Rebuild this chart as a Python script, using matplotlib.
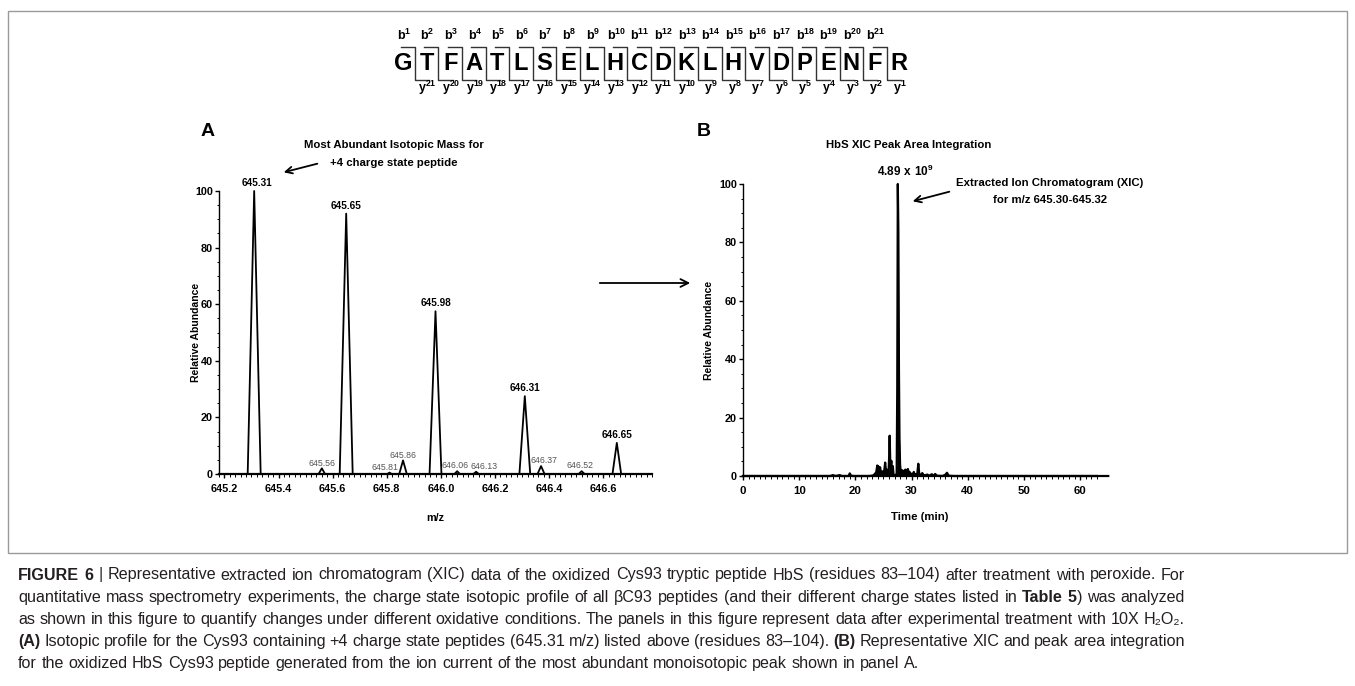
import matplotlib
matplotlib.use('Agg')
import matplotlib.pyplot as plt
from matplotlib.patches import Rectangle
from matplotlib.ticker import MultipleLocator

PLAIN = ['Liberation Sans', 'DejaVu Sans']
plt.rcParams['font.family'] = PLAIN
plt.rcParams['mathtext.fontset'] = 'custom'
plt.rcParams['mathtext.rm'] = 'Liberation Sans'
plt.rcParams['mathtext.bf'] = 'Liberation Sans:bold'

W, H = 1355, 686
CAP_SIZE = 11.6

sequence = list('GTFATLSELHCDKLHVDPENFR')

# panel A: isotopic envelope of the +4 charge state peptide
peak_mz = [645.31, 645.56, 645.65, 645.81, 645.86, 645.98, 646.06, 646.13, 646.31, 646.37, 646.52, 646.65]
peak_abund = [100, 2.0, 92, 0.5, 4.8, 57.5, 1.0, 0.8, 27.5, 2.8, 1.0, 11]
peak_halfwidth = [0.024, 0.012, 0.024, 0.008, 0.014, 0.022, 0.010, 0.010, 0.020, 0.013, 0.011, 0.016]
peak_major = [True, False, True, False, False, True, False, False, True, False, False, True]
mz_ticks = [645.2, 645.4, 645.6, 645.8, 646.0, 646.2, 646.4, 646.6]
mz_ticklabels = ['645.2', '645.4', '645.6', '645.8', '646.0', '646.2', '646.4', '646.6']

# panel B: extracted ion chromatogram
xic_time = [0, 15.5, 16.0, 16.5, 17.2, 17.6, 18.8, 19.0, 19.2, 19.5, 22.5, 23.2, 23.5, 23.7,
            23.9, 24.0, 24.1, 24.25, 24.4, 24.55, 24.7, 24.85, 25.0, 25.15, 25.3, 25.45, 25.6,
            25.75, 25.9, 26.0, 26.1, 26.2, 26.3, 26.4, 26.5, 26.65, 26.8, 27.0, 27.2, 27.35,
            27.45, 27.55, 27.65, 27.75, 27.85, 27.95, 28.05, 28.15, 28.3, 28.45, 28.6, 28.75,
            28.9, 29.05, 29.2, 29.35, 29.5, 29.65, 29.8, 30.0, 30.2, 30.4, 30.55, 30.75, 31.0,
            31.2, 31.35, 31.5, 31.7, 31.9, 32.1, 32.4, 32.8, 33.1, 33.6, 33.9, 34.2, 34.5,
            35.5, 36.0, 36.3, 36.6, 37.5, 65]
xic_abund = [0, 0, 0.3, 0, 0.3, 0, 0, 0.9, 0.2, 0, 0, 0.2, 0.8, 1.2,
             3.6, 1.5, 3.3, 2.2, 3.0, 1.2, 0.8, 1.6, 0.6, 2.0, 4.6, 1.6, 2.2,
             0.6, 1.0, 6.0, 13.8, 5.5, 3.5, 5.2, 1.5, 3.4, 0.5, 0.3, 0.2, 1.0,
             30, 100, 84, 37, 13, 4.0, 2.0, 1.0, 2.0, 0.8, 1.8, 0.6,
             2.2, 1.0, 1.6, 2.4, 1.0, 1.4, 0.4, 0.8, 0.3, 1.4, 0.4, 0.6, 0.5,
             4.2, 1.0, 0.4, 0.2, 1.0, 0.4, 0.2, 0.5, 0.1, 0.6, 0.1, 0.7, 0.1,
             0, 0.4, 1.1, 0.1, 0, 0]
time_ticks = [0, 10, 20, 30, 40, 50, 60]
abund_ticks = [0, 20, 40, 60, 80, 100]

caption = [
    '**FIGURE 6** | Representative extracted ion chromatogram (XIC) data of the oxidized Cys93 tryptic peptide HbS (residues 83\u2013104) after treatment with peroxide. For',
    'quantitative mass spectrometry experiments, the charge state isotopic profile of all \u03b2C93 peptides (and their different charge states listed in **Table 5**) was analyzed',
    'as shown in this figure to quantify changes under different oxidative conditions. The panels in this figure represent data after experimental treatment with 10X H\u2082O\u2082.',
    '**(A)** Isotopic profile for the Cys93 containing +4 charge state peptides (645.31 m/z) listed above (residues 83\u2013104). **(B)** Representative XIC and peak area integration',
    'for the oxidized HbS Cys93 peptide generated from the ion current of the most abundant monoisotopic peak shown in panel A.',
]


def px_axes(fig, left, top, right, bottom):
    return fig.add_axes([left / W, 1 - bottom / H, (right - left) / W, (bottom - top) / H])


def style_axes(ax):
    ax.set_facecolor('none')
    for s in ('top', 'right'):
        ax.spines[s].set_visible(False)
    ax.spines['left'].set_linewidth(1.0)
    ax.spines['bottom'].set_linewidth(1.6)
    ax.tick_params(which='major', length=3, width=1, direction='out')
    ax.tick_params(which='minor', length=1.8, width=0.7, direction='out')
    ax.tick_params(axis='x', pad=4)
    ax.tick_params(axis='y', pad=1.5)
    ax.set_ylim(0, 100)
    ax.yaxis.set_minor_locator(MultipleLocator(5))
    ax.set_yticks(abund_ticks, [str(v) for v in abund_ticks], fontsize=7.8, fontweight='bold')
    ax.set_ylabel('Relative Abundance', fontsize=7.5, fontweight='bold')


def caption_line(ax, renderer, text, y, x0, x1, justify):
    tokens, current = [], []
    for i, part in enumerate(text.split('**')):
        bold = i % 2 == 1
        for j, piece in enumerate(part.split(' ')):
            if j > 0 and current:
                tokens.append(current)
                current = []
            if piece:
                current.append((piece, bold))
    if current:
        tokens.append(current)

    placed, widths = [], []
    for tok in tokens:
        tw, objs = 0, []
        for s, b in tok:
            t = ax.text(0, y, s, fontsize=CAP_SIZE, fontweight='bold' if b else 'normal',
                        family=PLAIN, ha='left', va='center', color='#231f20')
            objs.append((t, tw))
            tw += t.get_window_extent(renderer).width
        placed.append(objs)
        widths.append(tw)
    if justify:
        gap = (x1 - x0 - sum(widths)) / (len(tokens) - 1)
    else:
        gap = CAP_SIZE * 100 / 72 * 0.278
    x = x0
    for objs, w in zip(placed, widths):
        for t, off in objs:
            t.set_x(x + off)
        x += w + gap


fig = plt.figure(figsize=(W / 100, H / 100), dpi=100)
ov = fig.add_axes([0, 0, 1, 1])
ov.set_xlim(0, W)
ov.set_ylim(H, 0)
ov.axis('off')

ov.add_patch(Rectangle((8, 11), 1339, 542, fill=False, edgecolor='#9a9a9a', lw=1))

# peptide fragmentation map
x0, dx = 403, 23.6
for i, aa in enumerate(sequence):
    ov.text(x0 + i * dx, 64, aa, fontsize=17, fontweight='bold',
            ha='center', va='center')
n = len(sequence)
for i in range(1, n):
    xs = x0 + (i - 0.5) * dx
    ov.plot([xs - 0.6 * dx, xs, xs, xs + 0.6 * dx], [47, 47, 80, 80], color='#333333', lw=1.0)
    ov.text(x0 + (i - 1) * dx + 1, 35, r'$\mathbf{b}^{\mathbf{%d}}$' % i, fontsize=9,
            ha='center', va='center')
    ov.text(x0 + i * dx + 1, 88, r'$\mathbf{y}^{\mathbf{%d}}$' % (n - i), fontsize=9,
            ha='center', va='center')

# panel A
axA = px_axes(fig, 219, 191, 652, 474)
style_axes(axA)
xs, ys = [645.18], [0]
for c, h, w in zip(peak_mz, peak_abund, peak_halfwidth):
    xs += [c - w, c, c + w]
    ys += [0, h, 0]
xs.append(646.78)
ys.append(0)
axA.plot(xs, ys, color='black', lw=1.3, clip_on=False)
label_dx = [3, 0, 0, -4, 0, 0, -2, 8, 0, 3, -2, 0]
for c, h, maj, ddx in zip(peak_mz, peak_abund, peak_major, label_dx):
    axA.annotate('%.2f' % c, (c, h), xytext=(ddx * 0.72, 2 if maj else 0.5),
                 textcoords='offset points',
                 ha='center', va='bottom', fontsize=7.2 if maj else 6.3,
                 fontweight='bold' if maj else 'normal', color='black' if maj else '#555555',
                 annotation_clip=False)
axA.set_xlim(645.18, 646.78)
axA.xaxis.set_minor_locator(MultipleLocator(0.02))
axA.set_xticks(mz_ticks, mz_ticklabels, fontsize=7.8, fontweight='bold')
axA.set_xlabel('m/z', fontsize=7.8, fontweight='bold')
axA.xaxis.set_label_coords(0.5, -0.138)
axA.yaxis.set_label_coords(-0.042, 0.5)

# panel B
axB = px_axes(fig, 743, 184, 1097, 476)
style_axes(axB)
axB.fill_between(xic_time, xic_abund, color='black', lw=0)
axB.plot(xic_time, xic_abund, color='black', lw=1.6, clip_on=False)
axB.set_xlim(0, 63)
axB.xaxis.set_minor_locator(MultipleLocator(1))
axB.set_xticks(time_ticks, [str(v) for v in time_ticks], fontsize=8.2, fontweight='bold')
axB.set_xlabel('Time (min)', fontsize=8.2, fontweight='bold')
axB.xaxis.set_label_coords(0.5, -0.123)
axB.yaxis.set_label_coords(-0.082, 0.5)

# panel letters, titles and arrows
ov.text(208, 132, 'A', fontsize=14, fontweight='bold', ha='center', va='center')
ov.text(704, 132, 'B', fontsize=14, fontweight='bold', ha='center', va='center')
ov.text(394, 145, 'Most Abundant Isotopic Mass for', fontsize=8.2, fontweight='bold',
        ha='center', va='center')
ov.text(394, 163, '+4 charge state peptide', fontsize=8.2, fontweight='bold',
        ha='center', va='center')
ov.annotate('', xy=(281, 173), xytext=(320, 163),
            arrowprops=dict(arrowstyle='->', lw=1.3, color='black', mutation_scale=12))
ov.text(909, 145, 'HbS XIC Peak Area Integration', fontsize=8.2, fontweight='bold',
        ha='center', va='center')
ov.text(905, 171, r'$\mathbf{4.89\ x\ 10}^{\mathbf{9}}$', fontsize=8.5, ha='center', va='center')
ov.text(1050, 183, 'Extracted Ion Chromatogram (XIC)', fontsize=8.2, fontweight='bold',
        ha='center', va='center')
ov.text(1050, 200, 'for m/z 645.30-645.32', fontsize=8.2, fontweight='bold',
        ha='center', va='center')
ov.annotate('', xy=(910, 202), xytext=(952, 191),
            arrowprops=dict(arrowstyle='->', lw=1.3, color='black', mutation_scale=12))
ov.annotate('', xy=(693, 283), xytext=(597, 283),
            arrowprops=dict(arrowstyle='->', lw=1.3, color='black', mutation_scale=14))

# caption
renderer = fig.canvas.get_renderer()
for k, line in enumerate(caption):
    caption_line(ov, renderer, line, 575 + k * 22.2, 18, 1185, k < len(caption) - 1)

fig.savefig('out.png', dpi=100)
